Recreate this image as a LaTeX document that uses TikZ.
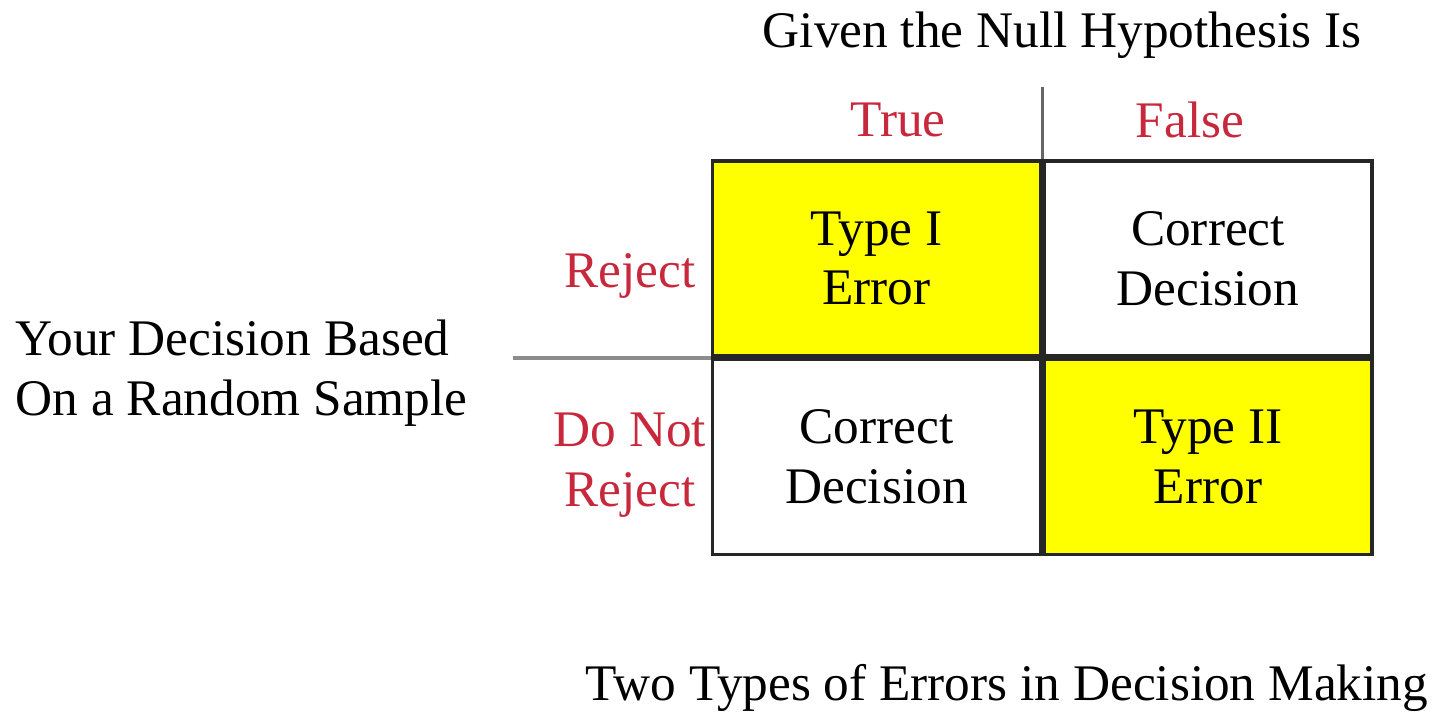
\documentclass[tikz,border=0pt]{standalone}
\usepackage{fontspec}
\setmainfont{LiberationSerif}[Extension=.ttf, UprightFont=*-Regular, BoldFont=*-Bold, ItalicFont=*-Italic]
\usepackage{xcolor}
\usepackage{tikz}
\usetikzlibrary{positioning}
\definecolor{hyred}{RGB}{200,40,60}
\definecolor{cellyellow}{RGB}{255,255,0}
\tikzstyle{cell} = [rectangle, minimum width=3.28cm, minimum height=1.95cm, inner sep=0pt, text centered, align=center, draw=black!85, line width=1pt, font=\fontsize{14.6}{17}\selectfont]
\tikzstyle{errcell} = [cell, fill=cellyellow]
\tikzstyle{okcell} = [cell, fill=white]
\tikzstyle{hlabel} = [text=hyred, font=\fontsize{14.6}{17}\selectfont, align=center, inner sep=0pt]
\tikzstyle{caption} = [font=\fontsize{14.6}{17}\selectfont, align=left, inner sep=0pt]
\tikzstyle{divider} = [line width=1pt, draw=black!60]

\begin{document}
\begin{tikzpicture}[node distance=0pt]
    \useasboundingbox (0,0) rectangle (14.37,-7.15);

    % === the 2x2 table ===
    \node[errcell] (typeone) at (8.765,-2.585) {Type I\\Error};
    \node[okcell, right=0pt of typeone] (okfalse) {Correct\\Decision};
    \node[okcell, below=0pt of typeone] (oktrue) {Correct\\Decision};
    \node[errcell, below=0pt of okfalse] (typetwo) {Type II\\Error};

    % === column headings ===
    \node[caption] (given) at (10.62,-0.35) {Given the Null Hypothesis Is};
    \node[hlabel] (true) at (8.98,-1.2) {True};
    \node[hlabel] (false) at (11.9,-1.2) {False};

    % === row headings ===
    \node[hlabel] (reject) at (6.3,-2.76) {Reject};
    \node[hlabel] (notreject) at (6.3,-4.65) {Do Not\\Reject};
    \node[caption, anchor=west] (decision) at (0.15,-3.73) {Your Decision Based\\On a Random Sample};

    % === caption ===
    \node[caption] (title) at (10.07,-6.88) {Two Types of Errors in Decision Making};

    % separators outside the table
    \draw[divider] (typeone.north east) -- ++(0,0.72);
    \draw[divider, draw=black!45] (typeone.south west) -- ++(-1.98,0);
\end{tikzpicture}
\end{document}
